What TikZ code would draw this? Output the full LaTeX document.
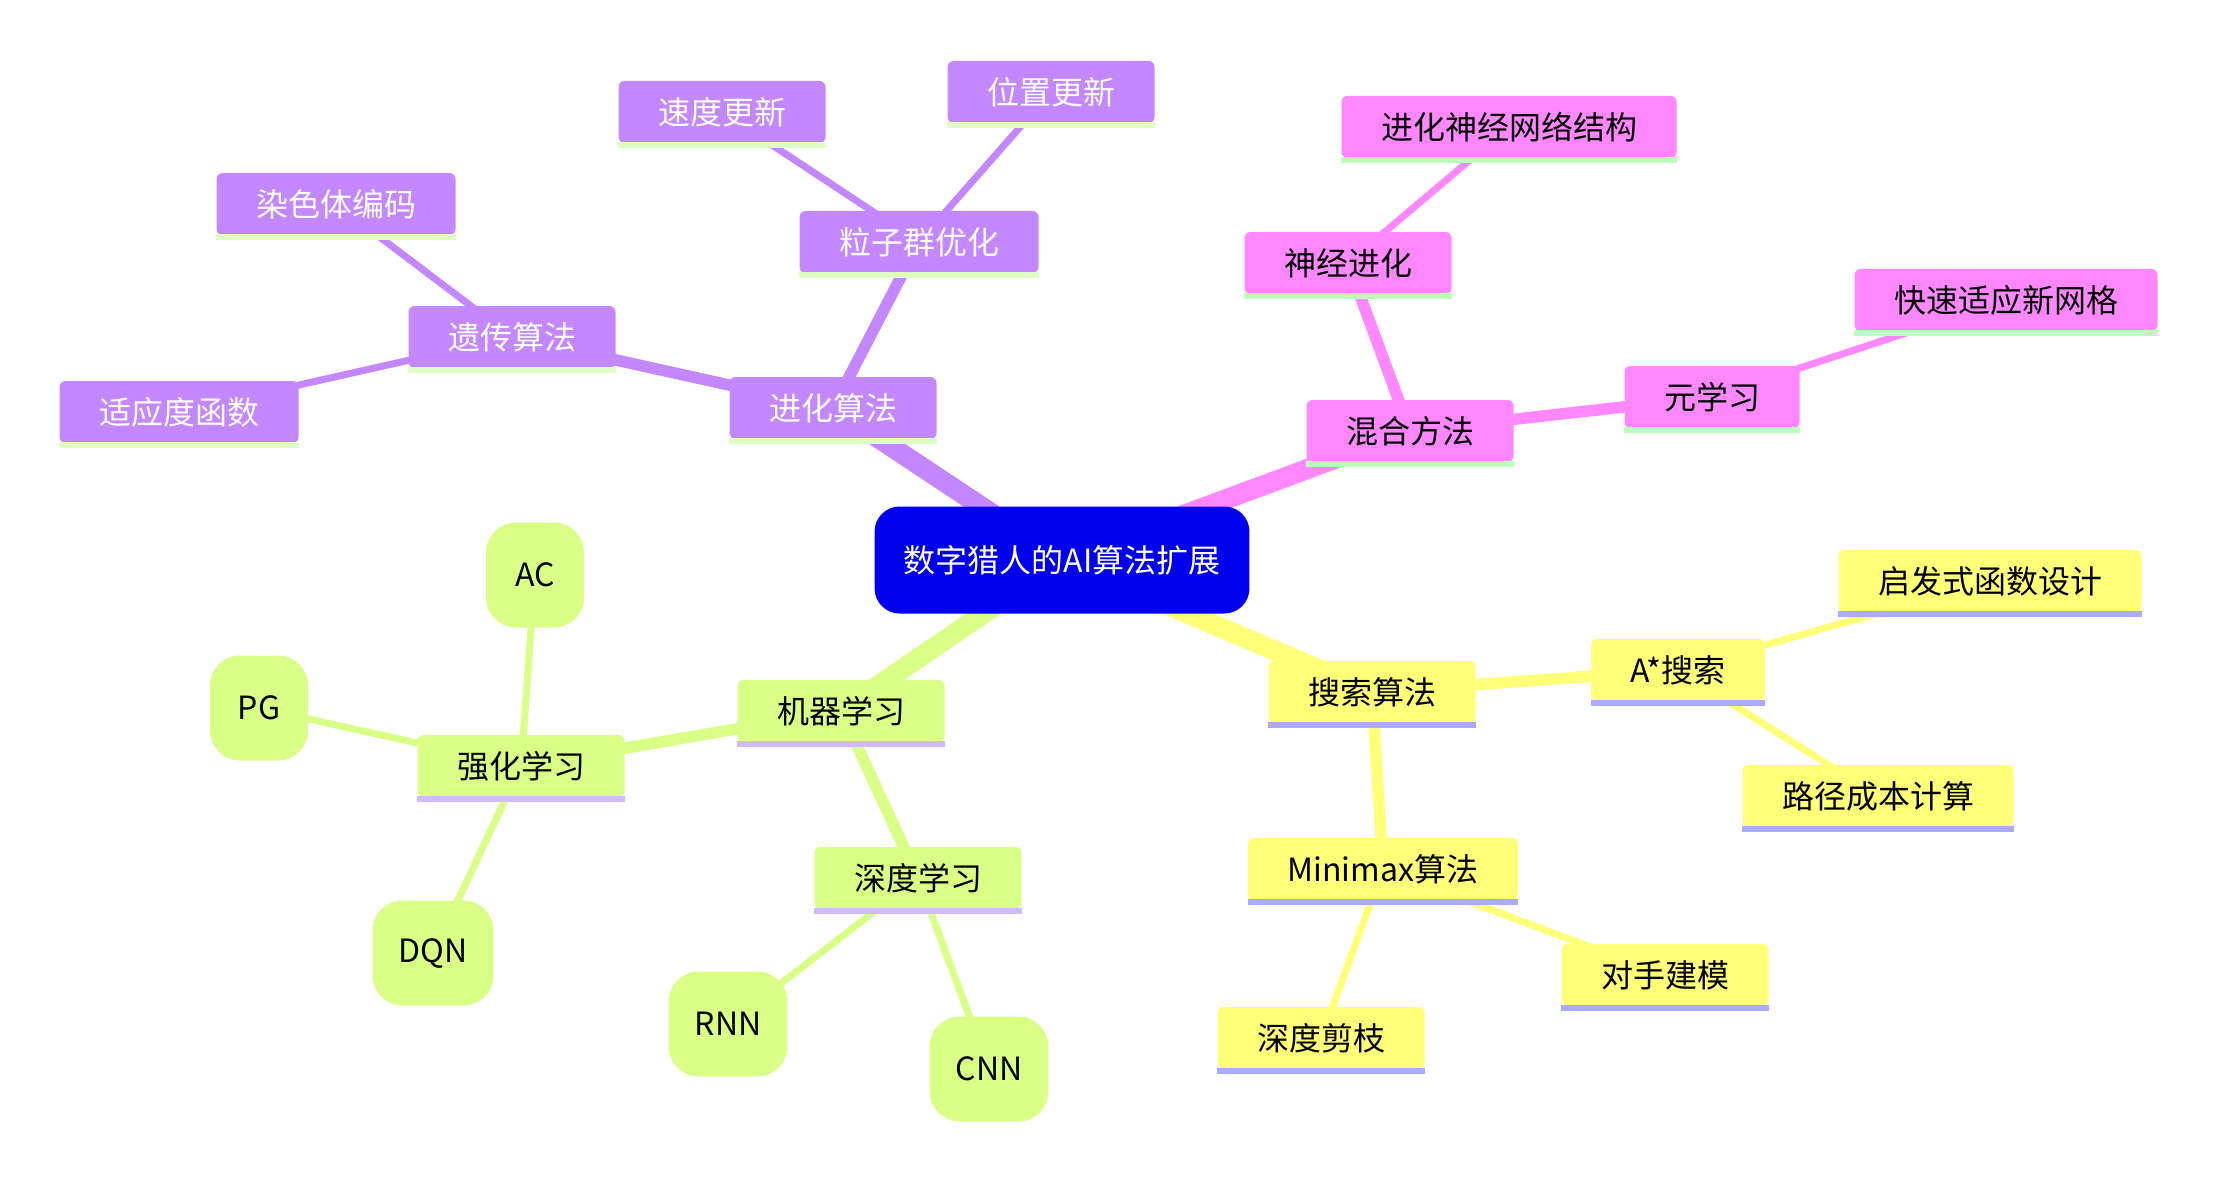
\documentclass[tikz,border=0pt]{standalone}
\usepackage{fontspec}
\setmainfont{Noto Sans CJK SC}
\definecolor{rootblue}{HTML}{0000EC}
\definecolor{evofill}{HTML}{C387FF}
\definecolor{hybfill}{HTML}{FF87FF}
\definecolor{srchfill}{HTML}{FFFF78}
\definecolor{mlfill}{HTML}{D9FF87}
\definecolor{evobar}{HTML}{DDFFC4}
\definecolor{hybbar}{HTML}{BBFFBB}
\definecolor{srchbar}{HTML}{AAAAFF}
\definecolor{mlbar}{HTML}{D0BBFF}
\pgfdeclarelayer{edgelayer}
\pgfsetlayers{edgelayer,main}

\begin{document}
\begin{tikzpicture}[
  x=1pt, y=-1pt,
  font=\fontsize{32}{37}\selectfont,
  box/.style={rectangle, rounded corners=6pt, minimum height=62pt,
              inner xsep=39.5pt, inner ysep=0pt},
  rootbox/.style={rectangle, rounded corners=25pt, fill=rootblue, text=white,
                  minimum height=107pt, inner xsep=29pt},
  evo/.style={box, fill=evofill, text=white},
  hyb/.style={box, fill=hybfill},
  srch/.style={box, fill=srchfill},
  ml/.style={box, fill=mlfill},
  leaf/.style={rectangle, rounded corners=30pt, fill=mlfill,
               minimum width=98pt, minimum height=105pt, inner xsep=26pt},
  trunk/.style={line width=20pt},
  branch/.style={line width=11.5pt},
  twig/.style={line width=7pt},
  bar/.style={line width=6.5pt},
]
\useasboundingbox (0,0) rectangle (2218,1182);

% --- Root ---
\node[rootbox] (root) at (1062,560) {数字猎人的AI算法扩展};

% --- Evolution branch (purple) ---
\node[evo] (evo)   at (833,408)  {进化算法};
\node[evo] (gen)   at (512,337)  {遗传算法};
\node[evo] (chrom) at (336,204)  {染色体编码};
\node[evo] (fit)   at (179,412)  {适应度函数};
\node[evo] (pso)   at (919,242)  {粒子群优化};
\node[evo] (vel)   at (722,112)  {速度更新};
\node[evo] (pos)   at (1051,92)  {位置更新};

% --- Hybrid branch (pink) ---
\node[hyb] (hyb)       at (1410,431) {混合方法};
\node[hyb] (neuro)     at (1348,263) {神经进化};
\node[hyb] (nnarch)    at (1509,127) {进化神经网络结构};
\node[hyb] (meta)      at (1712,397) {元学习};
\node[hyb] (fastadapt) at (2006,300) {快速适应新网格};

% --- Search branch (yellow) ---
\node[srch] (search)   at (1372,692)  {搜索算法};
\node[srch] (astar)    at (1678,670)  {A*搜索};
\node[srch] (heur)     at (1990,581)  {启发式函数设计};
\node[srch] (pathcost) at (1878,796)  {路径成本计算};
\node[srch] (minimax)  at (1383,869)  {Minimax算法};
\node[srch] (oppo)     at (1665,975)  {对手建模};
\node[srch] (prune)    at (1321,1038) {深度剪枝};

% --- Learning branch (green) ---
\node[ml]   (ml)  at (841,711)  {机器学习};
\node[ml]   (rl)  at (521,766)  {强化学习};
\node[leaf] (ac)  at (535,575)  {AC};
\node[leaf] (pg)  at (259,708)  {PG};
\node[leaf] (dqn) at (433,953)  {DQN};
\node[ml]   (dl)  at (918,878)  {深度学习};
\node[leaf] (rnn) at (728,1024) {RNN};
\node[leaf] (cnn) at (989,1069) {CNN};

% --- Underlines ---
\foreach \n/\c in {evo/evobar, gen/evobar, chrom/evobar, fit/evobar, pso/evobar,
                   vel/evobar, pos/evobar, hyb/hybbar, neuro/hybbar, nnarch/hybbar,
                   meta/hybbar, fastadapt/hybbar, search/srchbar, astar/srchbar,
                   heur/srchbar, pathcost/srchbar, minimax/srchbar, oppo/srchbar,
                   prune/srchbar, ml/mlbar, rl/mlbar, dl/mlbar}
  \draw[bar, \c] ([yshift=-2pt]\n.south west) -- ([yshift=-2pt]\n.south east);

% --- Connectors, centre to centre, under the nodes ---
\begin{pgfonlayer}{edgelayer}
  \fill[white] (0,0) rectangle (2218,1182);
  \foreach \a/\b/\c in {root/evo/evofill, root/hyb/hybfill,
                        root/search/srchfill, root/ml/mlfill}
    \draw[trunk, \c] (\a.center) -- (\b.center);
  \foreach \a/\b/\c in {evo/gen/evofill, evo/pso/evofill, hyb/neuro/hybfill,
                        hyb/meta/hybfill, search/astar/srchfill,
                        search/minimax/srchfill, ml/rl/mlfill, ml/dl/mlfill}
    \draw[branch, \c] (\a.center) -- (\b.center);
  \foreach \a/\b/\c in {gen/chrom/evofill, gen/fit/evofill, pso/vel/evofill,
                        pso/pos/evofill, neuro/nnarch/hybfill,
                        meta/fastadapt/hybfill, astar/heur/srchfill,
                        astar/pathcost/srchfill, minimax/oppo/srchfill,
                        minimax/prune/srchfill, rl/ac/mlfill, rl/pg/mlfill,
                        rl/dqn/mlfill, dl/rnn/mlfill, dl/cnn/mlfill}
    \draw[twig, \c] (\a.center) -- (\b.center);
\end{pgfonlayer}

\end{tikzpicture}
\end{document}
